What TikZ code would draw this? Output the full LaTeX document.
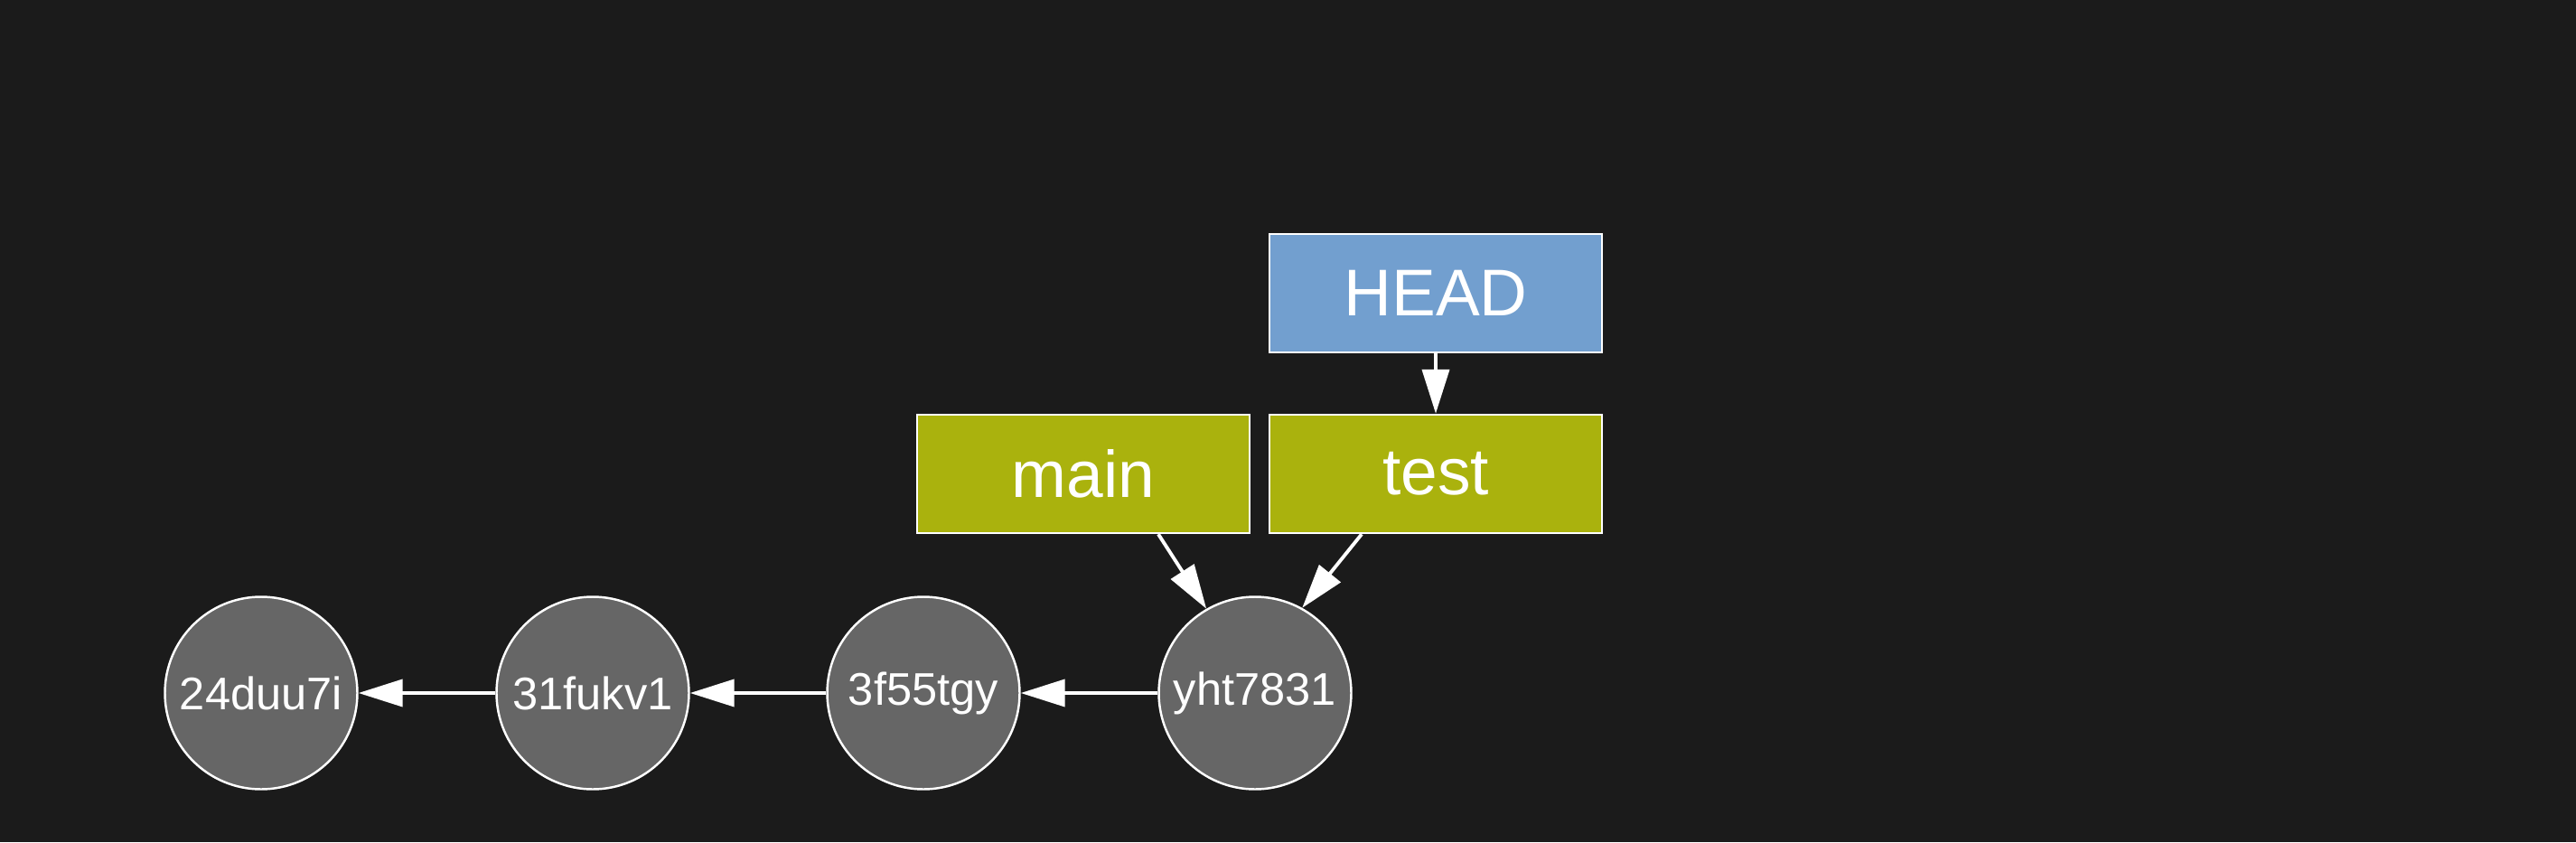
\documentclass[tikz,border=0pt]{standalone}
\usepackage{fontspec}
\setmainfont{Liberation Sans}
\usetikzlibrary{arrows.meta}
\definecolor{bgdark}{RGB}{27,27,27}
\definecolor{commitgray}{RGB}{102,102,102}
\definecolor{headblue}{RGB}{114,159,207}
\definecolor{branchgreen}{RGB}{170,178,13}
\tikzset{
    commit/.style={circle, draw=white, line width=0.7pt, fill=commitgray, minimum size=2.13cm, inner sep=0pt, text=white, font=\fontsize{14.4}{16}\selectfont},
    branch/.style={rectangle, draw=white, line width=0.7pt, fill=branchgreen, minimum width=3.68cm, minimum height=1.31cm, inner sep=0pt, text=white, font=\fontsize{20.8}{24}\selectfont},
    headref/.style={branch, fill=headblue},
    ptr/.style={draw=white, line width=1.1pt, -{Triangle[length=0.49cm,width=0.30cm]}, white}
}
\begin{document}
\begin{tikzpicture}
                \fill[bgdark] (0, 0) rectangle (28.51, -9.32);
                \useasboundingbox (0, 0) rectangle (28.51, -9.32);

                % commits
                \node[commit] (c1) at (2.89, -7.67) {24duu7i};
                \node[commit] (c2) at (6.56, -7.67) {31fukv1};
                \node[commit] (c3) at (10.22, -7.67) {3f55tgy};
                \node[commit] (c4) at (13.89, -7.67) {yht7831};

                % refs
                \node[branch] (main) at (11.99, -5.245) {main};
                \node[branch] (test) at (15.89, -5.245) {test};
                \node[headref] (head) at (15.89, -3.245) {HEAD};

                \draw[ptr] (c4) -- (c3);
                \draw[ptr] (c3) -- (c2);
                \draw[ptr] (c2) -- (c1);
                \draw[ptr] ([xshift=0.83cm]main.south) -- (c4.120);
                \draw[ptr] ([xshift=-0.82cm]test.south) -- (c4.61);
                \draw[ptr] (head) -- (test);
            \end{tikzpicture}
\end{document}
